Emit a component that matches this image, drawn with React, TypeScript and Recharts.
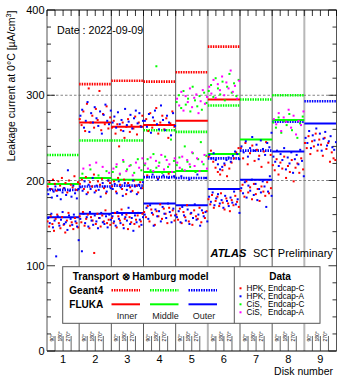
import { ComposedChart, XAxis, YAxis, Scatter, Line, ReferenceLine } from 'recharts';

const FONT = '"Liberation Sans", Arial, Helvetica, sans-serif';
const RED = '#ff0000';
const GREEN = '#00ff00';
const BLUE = '#0000ff';
const MAGENTA = '#ff00ff';

const disks = [1, 2, 3, 4, 5, 6, 7, 8, 9];
const angleLabels = ['90°', '180°', '270°'];
const yTicks = [0, 20, 40, 60, 80, 100, 120, 140, 160, 180, 200, 220, 240, 260, 280, 300, 320, 340, 360, 380, 400];

// model predictions per disk (null = ring not present on that disk)
const geant4Inner = [null, 313, 317, 316, 327, 357, null, null, null];
const flukaInner = [null, 268, 263, 265, 270, 295, null, null, null];
const geant4Middle = [230, 247, 247, 259, 257, 288, 295, 300, null];
const flukaMiddle = [196, 203, 201, 210, 211, 231, 248, 271, null];
const geant4Outer = [189, 193, 194, 204, 203, 226, 235, 269, 293];
const flukaOuter = [157, 161, 162, 173, 171, 190, 201, 234, 267];

// measured leakage current per module, grouped by disk, in phi order
const hpkCInner: Record<number, number[]> = {
  2: [272, 265, 281, 258, 290, 308, 268, 276, 262, 284, 271, 305, 259, 278, 266, 287, 261, 274],
  3: [262, 270, 255, 266, 240, 259, 268, 250, 263, 272, 257, 265, 261, 275, 254, 268, 264, 276],
  4: [265, 272, 258, 279, 262, 270, 285, 255, 268, 276, 260, 273, 250, 267, 281, 263],
};
const hpkAInner: Record<number, number[]> = {
  2: [276, 283, 262, 270, 292, 257, 279, 268, 286, 273, 264, 281, 255, 277, 289, 270, 266, 282],
  3: [268, 275, 262, 280, 266, 271, 258, 284, 265, 269, 277, 261, 273, 282, 267, 279, 263, 270],
  4: [270, 263, 278, 256, 274, 282, 266, 260, 288, 271, 259, 276, 268, 253, 279, 264],
};
const hpkCMiddle: Record<number, number[]> = {
  1: [193, 198, 190, 201, 196, 188, 199, 194, 203, 191, 197, 186, 200, 195, 192, 205, 189, 198],
  2: [196, 201, 190, 204, 186, 198, 193, 207, 188, 199, 195, 202, 191, 185, 200, 197],
  3: [193, 199, 187, 203, 195, 190, 201, 184, 197, 192, 188, 200, 194, 186, 198, 191],
  4: [206, 202, 208],
  6: [228, 235, 222, 215, 210, 207, 212, 218, 205, 214, 221, 226, 233, 238],
  7: [238, 226, 244, 219, 232, 241, 223, 236, 229, 216, 234, 245, 221, 230],
};
const hpkAMiddle: Record<number, number[]> = {
  1: [184, 190, 180, 187, 193, 182, 189, 178, 186, 191, 183, 212, 188, 181, 194, 185, 179, 190],
  2: [192, 188, 199, 184, 195, 190, 203, 186, 194, 189, 181, 197, 193, 187, 200, 191],
  3: [190, 196, 185, 199, 192, 182, 197, 189, 194, 187, 200, 193, 184, 195, 191, 198],
  4: [204, 207, 201, 206, 203, 205],
  5: [205, 201, 207, 203],
  6: [230, 226, 232, 224, 219, 213, 216, 220, 224, 227, 222, 229, 234, 231, 225],
  7: [240, 233, 246, 228, 238, 251, 235, 242, 225, 247, 237, 230, 244, 239, 256],
};
const hpkCOuter: Record<number, number[]> = {
  1: [152, 146, 158, 149, 141, 155, 160, 150, 144, 157, 148, 139, 153, 162, 147, 151, 143, 156, 150, 145],
  2: [158, 151, 163, 147, 155, 160, 144, 157, 153, 115, 149, 161, 156, 146, 159, 152, 165, 150, 154, 148],
  3: [156, 150, 162, 145, 158, 153, 166, 148, 155, 160, 143, 157, 151, 164, 149, 154, 159, 146, 152, 161],
  4: [163, 157, 170, 152, 166, 160, 148, 164, 158, 172, 155, 167, 161, 150, 168, 159, 165, 153],
  5: [160, 154, 167, 150, 163, 157, 171, 152, 161, 148, 165, 158, 155, 168, 151, 162, 156, 164],
  6: [178, 172, 183, 168, 176, 181, 170, 185, 174, 166, 179, 173, 164, 177, 171, 182, 175, 169],
  7: [188, 195, 181, 199, 186, 192, 178, 196, 184, 190, 176, 193, 187, 182, 198, 185, 191],
  8: [218, 212, 225, 207, 221, 214, 228, 203, 217, 210, 224, 199, 215, 220, 209, 226, 213],
  9: [244, 238, 252, 231, 246, 240, 255, 235, 248, 242, 229, 250, 237, 244, 222, 233, 226, 224],
};
const hpkAOuter: Record<number, number[]> = {
  1: [156, 150, 161, 145, 153, 111, 158, 147, 154, 163, 149, 151, 142, 159, 155, 148, 160, 152, 146, 130],
  2: [155, 117, 161, 150, 157, 146, 163, 153, 148, 159, 152, 144, 156, 162, 151, 149, 158, 145, 160, 154],
  3: [158, 152, 147, 163, 155, 150, 160, 144, 157, 153, 168, 149, 156, 141, 159, 151, 162, 154, 148, 157],
  4: [160, 168, 155, 171, 162, 147, 166, 158, 164, 152, 169, 161, 156, 173, 163, 151, 167, 159],
  5: [157, 164, 151, 169, 159, 153, 166, 149, 162, 156, 172, 154, 160, 147, 165, 158, 163, 152],
  6: [181, 175, 186, 171, 179, 184, 173, 177, 168, 182, 176, 170, 180, 174, 187, 172, 178, 162],
  7: [191, 185, 198, 180, 194, 188, 201, 183, 196, 177, 190, 186, 199, 193, 169, 187, 205, 182],
  8: [228, 222, 235, 217, 231, 224, 238, 213, 227, 220, 233, 209, 225, 230, 219, 236, 223, 205],
  9: [250, 244, 258, 238, 253, 247, 261, 242, 255, 235, 249, 257, 241, 246, 252, 239, 236, 245],
};
const cisCInner: Record<number, number[]> = {
  4: [334],
  5: [292, 300, 285, 305, 289, 296, 281, 310, 294, 287, 299, 283, 303, 291],
  6: [305, 312, 298, 320, 308, 301, 316, 294, 310, 325, 303, 314, 299, 318],
};
const cisAInner: Record<number, number[]> = {
  5: [296, 288, 304, 282, 299, 292, 308, 286, 297, 301, 279, 293, 306, 290, 298],
  6: [310, 302, 318, 297, 313, 306, 322, 300, 315, 308, 329, 304, 311, 296, 317],
};
const cisCMiddle: Record<number, number[]> = {
  2: [208, 213, 206, 211],
  3: [210, 216, 207, 222, 213, 218, 209, 225, 212],
  4: [218, 225, 212, 231, 215, 221, 209, 228, 216, 248, 223],
  5: [218, 227, 213, 240, 222, 216, 232, 210, 225, 245, 219, 229],
  8: [268, 262, 274, 256, 270, 265, 278, 259, 271, 250, 267, 275],
};
const cisAMiddle: Record<number, number[]> = {
  2: [214, 218, 221, 216, 209],
  3: [214, 219, 208, 224, 211, 217, 206, 221, 215, 226],
  4: [220, 214, 227, 211, 223, 217, 230, 213, 224, 219, 210, 226],
  5: [221, 215, 228, 212, 224, 219, 233, 217, 226, 211, 222, 230, 214],
  8: [272, 266, 279, 258, 274, 269, 283, 262, 276, 254, 270, 265, 281],
};

// modules sit evenly in phi across their disk
function place(groups: Record<number, number[]>, phase: number) {
  return Object.entries(groups).flatMap(([disk, vals]) =>
    vals.map((y, i) => ({ x: Number(disk) - 0.5 + (i + phase) / vals.length, y })),
  );
}

function steps(vals: (number | null)[]) {
  const pts: { x: number; y: number | null }[] = [];
  vals.forEach((v, i) => {
    if (v == null) return;
    const d = disks[i];
    pts.push({ x: d - 0.5, y: v }, { x: d + 0.5, y: v }, { x: d + 0.5, y: null });
  });
  return pts;
}

const dataSeries = [
  { data: [...place(hpkCInner, 0.35), ...place(hpkCMiddle, 0.35), ...place(hpkCOuter, 0.35)], color: RED },
  { data: [...place(hpkAInner, 0.7), ...place(hpkAMiddle, 0.7), ...place(hpkAOuter, 0.7)], color: BLUE },
  { data: [...place(cisCInner, 0.4), ...place(cisCMiddle, 0.4)], color: GREEN },
  { data: [...place(cisAInner, 0.65), ...place(cisAMiddle, 0.65)], color: MAGENTA },
];

const modelLines = [
  { vals: geant4Inner, color: RED, dotted: true },
  { vals: geant4Middle, color: GREEN, dotted: true },
  { vals: geant4Outer, color: BLUE, dotted: true },
  { vals: flukaInner, color: RED, dotted: false },
  { vals: flukaMiddle, color: GREEN, dotted: false },
  { vals: flukaOuter, color: BLUE, dotted: false },
];

const DOTS = '1.5 1';

const topTicks = [...disks.flatMap((d) => [d - 0.5, d - 0.25, d, d + 0.25]), 9.5];
const bottomTicks = disks.flatMap((d) => [d - 0.25, d, d + 0.25]);
const separators = disks.slice(0, -1).map((d) => d + 0.5);

const LeftTick = ({ x, y, payload }: any) => {
  const major = payload.value % 100 === 0;
  return (
    <g>
      <line x1={x} x2={x + (major ? 8 : 4)} y1={y} y2={y} stroke="#000" strokeWidth={0.8} />
      {major && (
        <text x={x - 2.5} y={y + 4} textAnchor="end" fontSize={11} fontFamily={FONT} fill="#000">
          {payload.value}
        </text>
      )}
    </g>
  );
};

const RightTick = ({ x, y, payload }: any) => {
  const major = payload.value % 100 === 0;
  return <line x1={x - (major ? 8 : 4)} x2={x} y1={y} y2={y} stroke="#000" strokeWidth={0.8} />;
};

const TopTick = ({ x, y }: any) => <line x1={x} x2={x} y1={y} y2={y + 6} stroke="#000" strokeWidth={0.8} />;

const BottomTick = ({ x, y, payload }: any) => {
  const d = Math.round(payload.value);
  const k = Math.round((payload.value - d) * 4) + 1;
  return (
    <g>
      <line x1={x} x2={x} y1={y - 15} y2={y} stroke="#222" strokeWidth={0.7} />
      <text
        x={x - 1.3}
        y={y - 9.5}
        transform={`rotate(-90 ${x - 1.3} ${y - 9.5})`}
        fontSize={5}
        fontFamily={FONT}
        fill="#000"
      >
        {angleLabels[k]}
      </text>
      {k === 1 && (
        <text x={x} y={y + 12.3} textAnchor="middle" fontSize={11} fontFamily={FONT} fill="#000">
          {d}
        </text>
      )}
    </g>
  );
};

const Square = (color: string) => (props: any) => (
  <rect x={props.cx - 1} y={props.cy - 1} width={2} height={2} fill={color} />
);

const dataLegend = [
  { name: 'HPK,', endcap: 'Endcap-C', color: RED },
  { name: 'HPK,', endcap: 'Endcap-A', color: BLUE },
  { name: 'CiS,', endcap: 'Endcap-C', color: GREEN },
  { name: 'CiS,', endcap: 'Endcap-A', color: MAGENTA },
];
const ringLegend = [
  { label: 'Inner', color: RED, x: 111.5 },
  { label: 'Middle', color: GREEN, x: 150 },
  { label: 'Outer', color: BLUE, x: 188.5 },
];

export default function App() {
  return (
    <div style={{ position: 'fixed', left: 0, top: 0, width: 338, height: 376, background: '#fff' }}>
      <ComposedChart width={338} height={376} margin={{ top: 9, right: 0.5, bottom: 0, left: 0 }}>
        <XAxis
          type="number"
          dataKey="x"
          domain={[0.5, 9.5]}
          allowDataOverflow
          ticks={bottomTicks}
          interval={0}
          height={25}
          tickSize={0}
          tickMargin={0}
          tickLine={false}
          axisLine={{ stroke: '#000', strokeWidth: 1 }}
          tick={<BottomTick />}
        />
        <XAxis
          xAxisId="top"
          orientation="top"
          type="number"
          dataKey="x"
          domain={[0.5, 9.5]}
          allowDataOverflow
          ticks={topTicks}
          interval={0}
          height={1}
          tickSize={0}
          tickMargin={0}
          tickLine={false}
          axisLine={{ stroke: '#000', strokeWidth: 1 }}
          tick={<TopTick />}
        />
        <YAxis
          type="number"
          domain={[0, 400]}
          allowDataOverflow
          ticks={yTicks}
          interval={0}
          width={47}
          tickSize={0}
          tickMargin={0}
          tickLine={false}
          axisLine={{ stroke: '#555', strokeWidth: 1 }}
          tick={<LeftTick />}
        />
        <YAxis
          yAxisId="right"
          orientation="right"
          type="number"
          domain={[0, 400]}
          allowDataOverflow
          ticks={yTicks}
          interval={0}
          width={1}
          tickSize={0}
          tickMargin={0}
          tickLine={false}
          axisLine={{ stroke: '#555', strokeWidth: 1 }}
          tick={<RightTick />}
        />
        {separators.map((s) => (
          <ReferenceLine
            key={`sep${s}`}
            x={s}
            stroke={s === 5.5 || s === 8.5 ? '#b8b8b8' : '#5a5a5a'}
            strokeWidth={s === 5.5 || s === 8.5 ? 2 : 1}
          />
        ))}
        {[200, 300].map((v) => (
          <ReferenceLine key={`h${v}`} y={v} stroke="#666" strokeWidth={0.8} strokeDasharray="2.5 2" />
        ))}
        {dataSeries.map((s, i) => (
          <Scatter key={`s${i}`} data={s.data} dataKey="y" fill={s.color} shape={Square(s.color)} isAnimationActive={false} />
        ))}
        {modelLines.map((m, i) => (
          <Line
            key={`m${i}`}
            data={steps(m.vals)}
            dataKey="y"
            type="linear"
            stroke={m.color}
            strokeWidth={m.dotted ? 2.6 : 2}
            strokeDasharray={m.dotted ? DOTS : undefined}
            dot={false}
            activeDot={false}
            connectNulls={false}
            isAnimationActive={false}
          />
        ))}
      </ComposedChart>
      <svg
        width={338}
        height={376}
        style={{ position: 'absolute', left: 0, top: 0, pointerEvents: 'none' }}
        fontFamily={FONT}
      >
        <text x={14.5} y={86} transform="rotate(-90 14.5 86)" textAnchor="middle" fontSize={10.5} fill="#000">
          Leakage current at 0°C [µA/cm<tspan dy={-4} fontSize={7}>3</tspan>
          <tspan dy={4}>]</tspan>
        </text>
        <text x={57} y={34} fontSize={10.7} fill="#000">
          Date : 2022-09-09
        </text>
        <text x={210.5} y={256.7} fontSize={11} fill="#000">
          <tspan fontWeight="bold" fontStyle="italic">ATLAS</tspan>
          <tspan x={253}>SCT Preliminary</tspan>
        </text>
        <text x={333} y={374.5} textAnchor="end" fontSize={10.5} fill="#000">
          Disk number
        </text>

        <rect x={62.7} y={266.7} width={257.3} height={56.6} fill="#fff" stroke="#555" strokeWidth={1} />
        <line x1={234.3} x2={234.3} y1={266.7} y2={323.3} stroke="#555" strokeWidth={1} />
        <text x={72.7} y={279.5} fontSize={10} fontWeight="bold" fill="#000">
          Transport ⊗ Hamburg model
        </text>
        <text x={69.3} y={294.3} fontSize={10} fontWeight="bold" fill="#000">
          Geant4
        </text>
        <text x={69.3} y={308.3} fontSize={10} fontWeight="bold" fill="#000">
          FLUKA
        </text>
        {ringLegend.map((r) => (
          <g key={r.label}>
            <line x1={r.x} x2={r.x + 28.5} y1={290.3} y2={290.3} stroke={r.color} strokeWidth={2.6} strokeDasharray={DOTS} />
            <line x1={r.x} x2={r.x + 28.5} y1={304.3} y2={304.3} stroke={r.color} strokeWidth={2} />
            <text x={r.x + 15.5} y={319.3} textAnchor="middle" fontSize={9} fill="#222">
              {r.label}
            </text>
          </g>
        ))}
        <text x={280} y={279.5} textAnchor="middle" fontSize={10} fontWeight="bold" fill="#000">
          Data
        </text>
        {dataLegend.map((d, i) => (
          <g key={i}>
            <rect x={239.5} y={287.3 + i * 8} width={2} height={2} fill={d.color} />
            <text x={246.5} y={290.8 + i * 8} fontSize={8.2} fill="#000">
              {d.name}
            </text>
            <text x={268} y={290.8 + i * 8} fontSize={8.2} fill="#000">
              {d.endcap}
            </text>
          </g>
        ))}
      </svg>
    </div>
  );
}
